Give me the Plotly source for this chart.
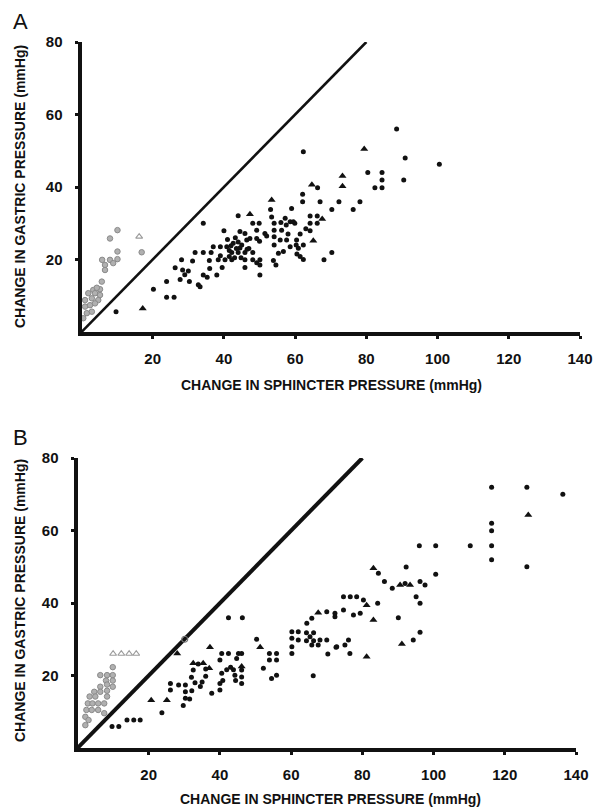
import plotly.graph_objects as go

# ---------------- Panel A data ----------------
A_dot_x = [9.7, 20.2, 23.9, 23.9, 26.0, 28.1, 26.3, 28.4, 27.7, 29.0, 30.3, 31.2, 31.9, 34.2, 32.8, 33.3,
           34.2, 34.2, 35.3, 35.9, 36.4, 38.0, 37.0, 39.0, 40.0, 38.4, 40.3, 42.2, 42.2, 44.0, 45.9, 40.8,
           42.6, 41.5, 43.5, 44.0, 44.5, 45.9, 43.2, 46.4, 47.3, 45.0, 44.8, 43.0, 48.1, 49.9, 49.2, 51.5,
           49.2, 50.0, 45.9, 48.1, 50.1, 45.9, 49.2, 50.1, 50.1, 48.1, 53.1, 53.4, 54.1, 54.1, 56.2, 58.6,
           57.2, 59.5, 57.5, 54.1, 54.1, 55.8, 57.6, 53.9, 54.6, 55.3, 56.7, 58.6, 60.4, 60.9, 59.0, 59.9,
           61.4, 60.3, 62.3, 60.5, 61.4, 62.3, 62.1, 62.1, 67.0, 72.3, 78.2, 70.3, 76.3, 64.2, 66.2, 64.2,
           66.2, 64.2, 63.0, 70.3, 68.1, 62.3, 66.3, 80.4, 84.4, 84.4, 90.5, 82.4, 84.4, 88.5, 90.9, 100.5,
           36.0, 39.5, 41.0, 47.0, 52.0, 30.0, 42.0, 44.0, 46.5, 39.0, 41.5, 44.5, 58.0, 56.0]
A_dot_y = [5.6, 11.8, 13.9, 9.6, 9.6, 19.9, 17.7, 17.1, 14.5, 15.8, 13.9, 19.6, 21.9, 21.9, 13.0, 12.5,
           30.0, 15.7, 15.1, 19.7, 21.9, 15.7, 23.5, 23.5, 27.9, 19.9, 19.9, 19.9, 21.9, 21.9, 21.9, 23.5,
           24.5, 22.5, 23.0, 32.1, 27.7, 27.2, 26.0, 25.4, 25.8, 24.0, 20.5, 20.5, 30.0, 30.0, 28.1, 27.2,
           25.8, 25.0, 19.9, 19.9, 19.9, 17.8, 19.1, 18.5, 15.7, 21.9, 33.8, 31.7, 30.0, 28.1, 28.1, 30.4,
           31.4, 30.4, 29.5, 26.3, 24.0, 25.4, 25.4, 19.7, 18.5, 21.7, 22.2, 23.5, 25.4, 23.1, 34.1, 30.0,
           27.0, 24.0, 24.0, 21.5, 20.8, 20.0, 38.0, 35.9, 35.9, 35.9, 35.9, 33.8, 33.8, 32.0, 32.0, 30.0,
           30.0, 27.9, 28.5, 21.9, 19.9, 49.7, 39.8, 44.0, 44.0, 41.9, 41.9, 39.8, 39.8, 56.0, 48.0, 46.3,
           17.5, 17.8, 25.5, 23.0, 26.5, 16.8, 23.8, 24.8, 22.8, 21.0, 20.8, 23.2, 27.0, 30.2]
A_tri_x = [17.2, 47.3, 53.4, 64.7, 73.3, 73.3, 79.4, 67.6, 65.1]
A_tri_y = [6.5, 32.5, 36.4, 40.6, 43.0, 40.2, 50.5, 31.2, 25.2]
A_gray_x = [10.1, 8.0, 16.9, 10.1, 5.8, 8.0, 10.1, 6.6, 8.9, 6.6, 5.7, 3.3, 5.2, 4.3, 1.9, 3.8, 5.2,
            1.0, 2.9, 4.7, 1.0, 2.4, 3.8, 1.5, 2.9, 0.5]
A_gray_y = [28.1, 25.8, 22.0, 22.2, 19.9, 19.9, 20.1, 18.5, 19.0, 17.1, 13.9, 11.6, 11.8, 12.2, 10.7,
            10.7, 10.2, 8.8, 9.3, 8.8, 7.0, 7.4, 7.9, 5.2, 5.6, 3.8]
A_graytri_x = [16.2]
A_graytri_y = [26.3]

# ---------------- Panel B data ----------------
B_dot_x = [9.7, 11.6, 13.9, 15.8, 17.6, 23.7, 26.1, 26.1, 28.4, 30.3, 30.3, 30.3, 29.7, 31.5, 32.1,
           42.4, 46.3, 37.7, 40.0, 40.5, 40.0, 40.0, 42.4, 45.2, 46.1, 44.7, 40.5, 44.2, 40.8, 44.4,
           46.1, 46.1, 46.1, 33.9, 32.5, 32.0, 33.0, 35.0, 36.0, 36.0, 34.5, 41.9, 43.0, 43.8, 50.3,
           52.2, 53.9, 55.9, 53.9, 55.9, 54.5, 55.9, 60.2, 62.0, 60.2, 62.0, 60.2, 60.2, 65.3, 64.3,
           66.3, 64.3, 66.3, 64.4, 65.8, 70.0, 72.3, 65.8, 67.6, 68.1, 70.0, 66.2, 70.3, 72.6, 74.7,
           76.6, 78.4, 80.3, 74.7, 77.5, 79.4, 72.3, 76.1, 75.1, 72.8, 76.5, 84.5, 86.2, 88.4, 92.0,
           96.2, 97.6, 95.1, 96.2, 90.1, 84.3, 96.2, 94.3, 92.3, 100.6, 96.0, 100.6, 110.3, 116.3, 116.3,
           116.3, 116.3, 116.3, 126.2, 126.2, 136.3]
B_dot_y = [5.9, 5.9, 7.7, 7.7, 7.7, 9.7, 17.8, 16.0, 17.4, 17.4, 15.5, 13.7, 11.7, 13.5, 15.8,
           35.9, 35.9, 15.1, 24.3, 26.1, 17.8, 16.0, 26.1, 26.1, 26.1, 24.7, 20.6, 20.1, 18.6, 18.6,
           21.5, 19.6, 17.8, 23.2, 21.5, 19.5, 18.0, 18.2, 19.8, 21.8, 17.0, 21.6, 22.3, 21.6, 30.0,
           22.0, 26.1, 26.1, 24.3, 24.3, 19.2, 20.1, 32.1, 32.1, 30.3, 29.8, 27.9, 26.1, 30.7, 31.8,
           29.6, 29.6, 31.8, 34.4, 35.8, 37.6, 36.2, 28.4, 28.4, 29.8, 29.8, 19.9, 25.9, 27.8, 41.7,
           41.7, 41.7, 40.8, 38.1, 36.7, 37.2, 37.2, 29.8, 28.4, 27.9, 26.1, 48.2, 45.9, 44.1, 45.4,
           45.9, 45.0, 41.7, 39.9, 35.9, 39.9, 31.9, 29.8, 49.9, 47.9, 55.8, 55.8, 55.8, 62.0, 59.9,
           55.8, 51.9, 71.9, 71.9, 50.0, 70.0]
B_tri_x = [20.7, 25.1, 28.0, 37.2, 32.5, 35.3, 51.3, 67.6, 83.1, 90.6, 93.4, 81.2, 83.1, 91.1, 81.2,
           126.6, 46.1, 37.0]
B_tri_y = [13.2, 13.2, 26.1, 27.8, 23.4, 23.4, 27.8, 37.3, 49.6, 45.0, 45.0, 39.4, 35.3, 28.7, 25.2,
           64.3, 22.5, 22.0]
B_gray_x = [9.9, 6.4, 8.3, 9.9, 8.0, 9.9, 6.4, 8.3, 9.9, 4.7, 6.4, 8.3, 3.4, 5.0, 8.3, 2.9, 4.2,
            5.8, 7.5, 2.5, 4.0, 5.8, 7.5, 2.2, 3.1, 2.2]
B_gray_y = [22.3, 20.1, 20.1, 20.1, 18.6, 18.6, 16.9, 17.5, 16.9, 15.5, 15.5, 15.8, 14.2, 14.2, 14.2,
            12.3, 12.3, 12.3, 12.3, 10.5, 10.5, 10.5, 9.6, 8.6, 7.7, 6.3]
B_graytri_x = [10.0, 12.3, 14.5, 16.5]
B_graytri_y = [26.0, 26.0, 26.0, 26.0]
B_open_x = [30.1]
B_open_y = [30.0]

identity = [0, 80]
x_ticks = [20, 40, 60, 80, 100, 120, 140]
y_ticks = [20, 40, 60, 80]

x_title = "CHANGE IN SPHINCTER PRESSURE (mmHg)"
y_title = "CHANGE IN GASTRIC PRESSURE (mmHg)"

BLACK = "#111111"
GRAY = "#9c9c9c"
FONT = "Liberation Sans, Arial, sans-serif"

W, H = 600, 808

fig = go.Figure()


def add_panel(xa, ya, dx, dy, tx, ty, gx, gy, gtx, gty, line_w):
    fig.add_trace(go.Scatter(x=identity, y=identity, mode="lines", xaxis=xa, yaxis=ya,
                             line=dict(color=BLACK, width=line_w), hoverinfo="skip"))
    fig.add_trace(go.Scatter(x=gx, y=gy, mode="markers", xaxis=xa, yaxis=ya,
                             marker=dict(symbol="circle", size=5.5, color="#b0b0b0",
                                         line=dict(color="#8a8a8a", width=1))))
    fig.add_trace(go.Scatter(x=gtx, y=gty, mode="markers", xaxis=xa, yaxis=ya,
                             marker=dict(symbol="triangle-up-open", size=6, color=GRAY,
                                         line=dict(color=GRAY, width=1.2))))
    fig.add_trace(go.Scatter(x=dx, y=dy, mode="markers", xaxis=xa, yaxis=ya,
                             marker=dict(symbol="circle", size=5, color=BLACK, line=dict(width=0))))
    fig.add_trace(go.Scatter(x=tx, y=ty, mode="markers", xaxis=xa, yaxis=ya,
                             marker=dict(symbol="triangle-up", size=7, color=BLACK, line=dict(width=0))))


add_panel("x", "y", A_dot_x, A_dot_y, A_tri_x, A_tri_y, A_gray_x, A_gray_y,
          A_graytri_x, A_graytri_y, 2.6)
add_panel("x2", "y2", B_dot_x, B_dot_y, B_tri_x, B_tri_y, B_gray_x, B_gray_y,
          B_graytri_x, B_graytri_y, 4)
fig.add_trace(go.Scatter(x=B_open_x, y=B_open_y, mode="markers", xaxis="x2", yaxis="y2",
                         marker=dict(symbol="circle-open", size=6, color="#777777",
                                     line=dict(width=1.2))))


def px_x(p):
    return p / W


def px_y(p):
    return 1 - p / H


def xax(left_px, right_px):
    return dict(domain=[px_x(left_px), px_x(right_px)], range=[0, 140], showgrid=False,
                zeroline=False, showline=True, linecolor=BLACK, linewidth=4, ticks="outside",
                ticklen=3, tickwidth=3, tickcolor=BLACK, tickvals=x_ticks, ticklabelstandoff=7,
                automargin=False,
                tickfont=dict(family=FONT, size=15, color=BLACK, weight="bold"), fixedrange=True)


def yax(top_px, bottom_px, anchor):
    return dict(domain=[px_y(bottom_px), px_y(top_px)], range=[0, 80], showgrid=False,
                zeroline=False, showline=True, linecolor=BLACK, linewidth=4, ticks="outside",
                ticklen=3, tickwidth=3, tickcolor=BLACK, tickvals=y_ticks, ticklabelstandoff=9,
                automargin=False,
                tickfont=dict(family=FONT, size=15, color=BLACK, weight="bold"), anchor=anchor,
                fixedrange=True)


xa = xax(81.5, 580)
xa["anchor"] = "y"
xb = xax(77.5, 576)
xb["anchor"] = "y2"

fig.update_layout(
    template="none",
    width=W, height=H, margin=dict(l=0, r=0, t=0, b=0, pad=0), autosize=False,
    paper_bgcolor="white", plot_bgcolor="white", showlegend=False,
    xaxis=xa, yaxis=yax(42, 332, "x"),
    xaxis2=xb, yaxis2=yax(458, 748, "x2"),
    font=dict(family=FONT, color=BLACK),
)

ann = []
ann.append(dict(text="A", x=px_x(11), y=px_y(21), xref="paper", yref="paper", showarrow=False,
                xanchor="left", yanchor="middle", font=dict(size=22, family=FONT, color=BLACK)))
ann.append(dict(text="B", x=px_x(11), y=px_y(437), xref="paper", yref="paper", showarrow=False,
                xanchor="left", yanchor="middle", font=dict(size=22, family=FONT, color=BLACK)))
for cx, cy in [(331, 385), (330, 799)]:
    ann.append(dict(text=x_title, x=px_x(cx), y=px_y(cy), xref="paper", yref="paper",
                    showarrow=False, xanchor="center", yanchor="middle",
                    font=dict(size=14, family=FONT, color=BLACK, weight="bold")))
for cx, cy in [(20, 187), (20, 601)]:
    ann.append(dict(text=y_title, x=px_x(cx), y=px_y(cy), xref="paper", yref="paper",
                    showarrow=False, xanchor="center", yanchor="middle", textangle=-90,
                    font=dict(size=14, family=FONT, color=BLACK, weight="bold")))
fig.update_layout(annotations=ann)

fig.write_html("out.html", config={"displayModeBar": False},
               post_script="document.body.style.margin='0';")
